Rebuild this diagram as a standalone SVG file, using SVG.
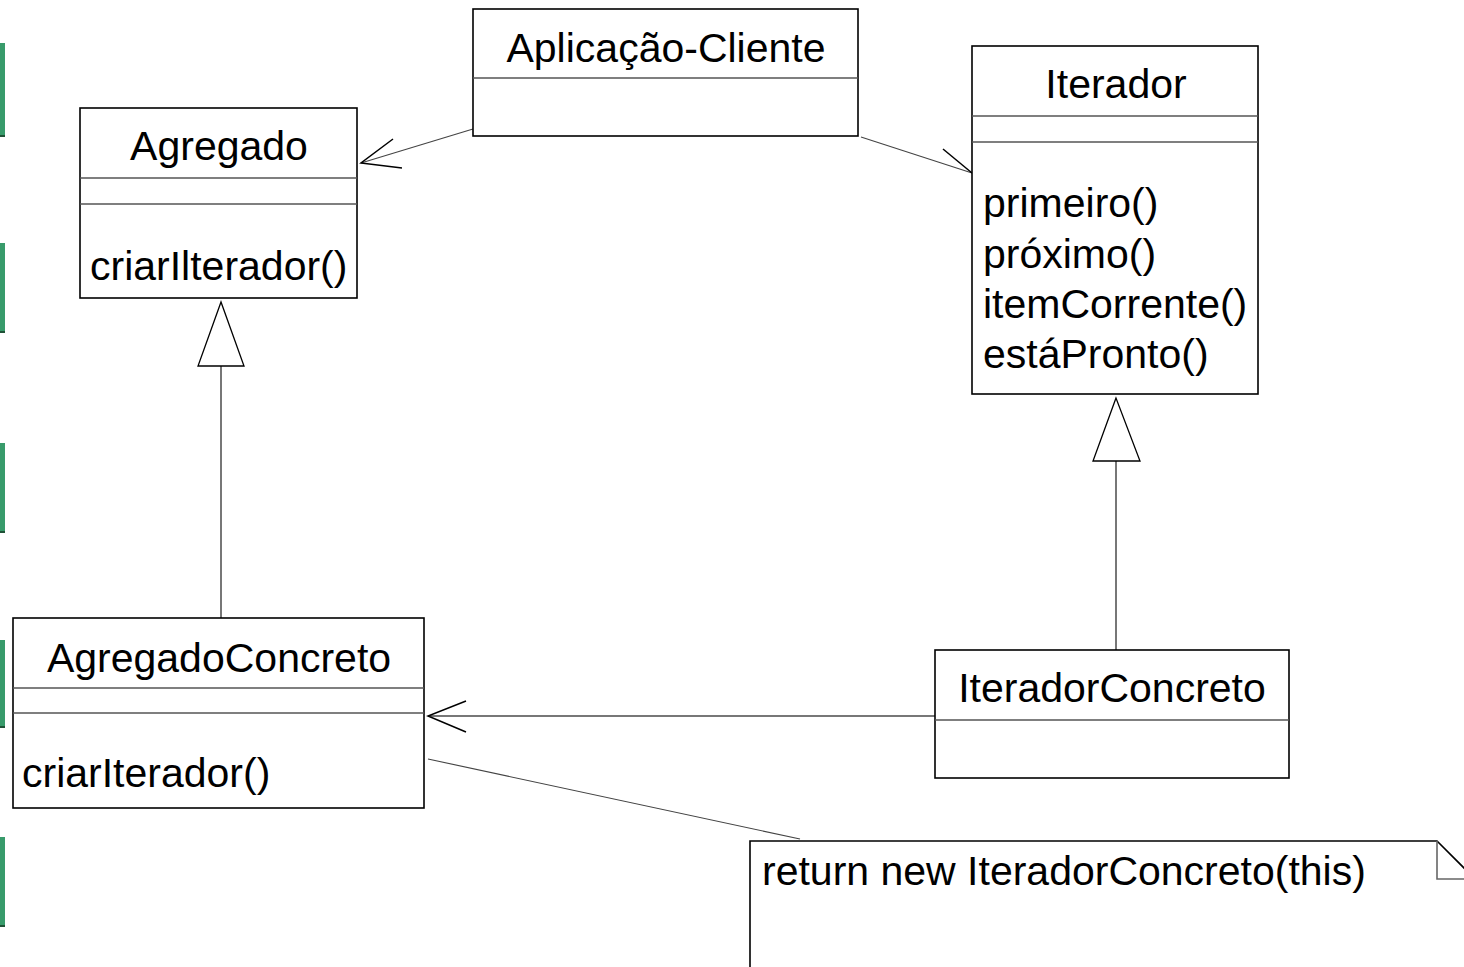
<svg xmlns="http://www.w3.org/2000/svg" width="1464" height="967" viewBox="0 0 1464 967">
<defs>
<style>
.box{fill:#fff;stroke:#000;stroke-width:1.6}
.div{stroke:#555;stroke-width:1.6;fill:none}
.t{font-family:"Liberation Sans",Arial,sans-serif;font-size:41px;fill:#000}
.c{text-anchor:middle}
.con{stroke:#444;stroke-width:1.1;fill:none}
.ah{stroke:#000;stroke-width:1.5;fill:none}
.gen{fill:#fff;stroke:#000;stroke-width:1.3}
.bar{fill:#389b6b}
.barb{fill:#1f5237}
</style>
</defs>
<rect width="1464" height="967" fill="#fff"/>
<g id="bars">
<rect class="bar" x="0" y="43" width="5" height="94"/><rect class="barb" x="0" y="135" width="5" height="2"/>
<rect class="bar" x="0" y="243" width="5" height="90"/><rect class="barb" x="0" y="331" width="5" height="2"/>
<rect class="bar" x="0" y="443" width="5" height="90"/><rect class="barb" x="0" y="531" width="5" height="2"/>
<rect class="bar" x="0" y="640" width="5" height="88"/><rect class="barb" x="0" y="726" width="5" height="2"/>
<rect class="bar" x="0" y="837" width="5" height="90"/><rect class="barb" x="0" y="925" width="5" height="2"/>
</g>
<g id="connectors">
<line class="con" x1="473" y1="129" x2="361" y2="163"/>
<polyline class="ah" points="393,139 361,163 402,168"/>
<line class="con" x1="861" y1="137" x2="972" y2="173"/>
<line class="ah" x1="943" y1="149" x2="972" y2="173"/>
<line x1="935" y1="716" x2="429" y2="716" stroke="#777" stroke-width="2"/>
<polyline class="ah" points="466,701 428,716 466,732"/>
<line class="con" x1="428" y1="759" x2="800" y2="839"/>
<line x1="221" y1="366" x2="221" y2="618" stroke="#555" stroke-width="1.6"/>
<polygon class="gen" points="221,302 198,366 244,366"/>
<line x1="1116" y1="461" x2="1116" y2="650" stroke="#555" stroke-width="1.6"/>
<polygon class="gen" points="1116,398 1093,461 1140,461"/>
</g>
<g id="aplicacao-cliente">
<rect class="box" x="473" y="9" width="385" height="127"/>
<line class="div" x1="473" y1="78" x2="858" y2="78"/>
<text class="t c" x="666" y="62">Aplicação-Cliente</text>
</g>
<g id="agregado">
<rect class="box" x="80" y="108" width="277" height="190"/>
<line class="div" x1="80" y1="178" x2="357" y2="178"/>
<line class="div" x1="80" y1="204" x2="357" y2="204"/>
<text class="t c" x="219" y="160">Agregado</text>
<text class="t" x="90" y="280">criarIlterador()</text>
</g>
<g id="iterador">
<rect class="box" x="972" y="46" width="286" height="348"/>
<line class="div" x1="972" y1="116" x2="1258" y2="116"/>
<line class="div" x1="972" y1="142" x2="1258" y2="142"/>
<text class="t c" x="1116" y="98">Iterador</text>
<text class="t" x="983" y="217">primeiro()</text>
<text class="t" x="983" y="268">próximo()</text>
<text class="t" x="983" y="318">itemCorrente()</text>
<text class="t" x="983" y="368">estáPronto()</text>
</g>
<g id="agregado-concreto">
<rect class="box" x="13" y="618" width="411" height="190"/>
<line class="div" x1="13" y1="688" x2="424" y2="688"/>
<line class="div" x1="13" y1="713" x2="424" y2="713"/>
<text class="t c" x="219" y="672">AgregadoConcreto</text>
<text class="t" x="22" y="787">criarIterador()</text>
</g>
<g id="iterador-concreto">
<rect class="box" x="935" y="650" width="354" height="128"/>
<line class="div" x1="935" y1="720" x2="1289" y2="720"/>
<text class="t c" x="1112" y="702">IteradorConcreto</text>
</g>
<g id="note">
<path d="M750,975 L750,841 L1437,841 L1480,884" fill="#fff" stroke="#000" stroke-width="1.6"/>
<polyline points="1437,841 1437,879 1470,879" fill="none" stroke="#666" stroke-width="1.6"/>
<text class="t" x="762" y="885">return new IteradorConcreto(this)</text>
</g>
</svg>
